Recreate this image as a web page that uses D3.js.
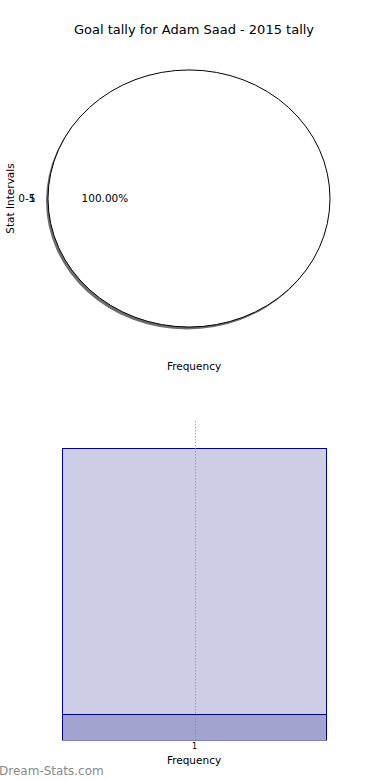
<!DOCTYPE html>
<html>
<head>
<meta charset="utf-8">
<script src="https://cdn.jsdelivr.net/npm/d3@7"></script>
<style>
body { margin: 0; background: #fff; }
text { font-family: "DejaVu Sans", sans-serif; }
</style>
</head>
<body>
<script>
// chart data
var intervals = ["0-5"];
var counts = [1];
var pctLabels = ["100.00%"];
var barCats = ["1"];
var barTop = [1];
var barBase = [0.09];
var whisker = [0, 1.1];

var width = 390, height = 780;

var svg = d3.select("body").append("svg")
    .attr("width", width)
    .attr("height", height);

svg.append("text")
    .attr("x", 194).attr("y", 34)
    .attr("text-anchor", "middle")
    .style("font-size", "13px")
    .text("Goal tally for Adam Saad - 2015 tally");

// pie
var cx = 189, cy = 198.5, rx = 141, ry = 128.5;
var pie = d3.pie().sort(null).startAngle(-Math.PI / 2).endAngle(1.5 * Math.PI);
var arcs = pie(counts);
var arc = d3.arc().innerRadius(0).outerRadius(rx);

var shadow = svg.append("g")
    .attr("transform", "translate(" + (cx - 2) + "," + (cy + 2.5) + ") scale(1," + (ry / rx) + ")");
shadow.selectAll("path")
    .data(arcs)
    .enter().append("path")
    .attr("d", arc)
    .attr("fill", "#6e6e6e");

var pieG = svg.append("g")
    .attr("transform", "translate(" + cx + "," + cy + ") scale(1," + (ry / rx) + ")");
pieG.selectAll("path")
    .data(arcs)
    .enter().append("path")
    .attr("d", arc)
    .attr("fill", "#fff")
    .attr("stroke", "#000")
    .attr("stroke-width", 1)
    .attr("vector-effect", "non-scaling-stroke");

var labels = svg.append("g");
intervals.forEach(function (name, i) {
    labels.append("text")
        .attr("x", cx - 1.1 * rx + 1.5).attr("y", cy + 3.5)
        .attr("text-anchor", "end")
        .style("font-size", "10.5px")
        .text(name);
    labels.append("text")
        .attr("x", cx - 1.1 * rx + 1.5).attr("y", cy + 3.5)
        .attr("text-anchor", "end")
        .style("font-size", "10.5px")
        .text(counts[i]);
    labels.append("text")
        .attr("x", cx - 0.6 * rx + 0.5).attr("y", cy + 3.5)
        .attr("text-anchor", "middle")
        .style("font-size", "10.5px")
        .text(pctLabels[i]);
});

svg.append("text")
    .attr("transform", "translate(13.5," + cy + ") rotate(-90)")
    .attr("text-anchor", "middle")
    .style("font-size", "10.5px")
    .text("Stat Intervals");

svg.append("text")
    .attr("x", 194).attr("y", 370)
    .attr("text-anchor", "middle")
    .style("font-size", "10.5px")
    .text("Frequency");

// bottom bar chart
var x = d3.scaleBand().domain(barCats).range([62.5, 326.5]).padding(0);
var y = d3.scaleLinear().domain([0, 1]).range([740.5, 448.5]);

var bars = svg.append("g");
bars.selectAll("rect.top")
    .data(barCats)
    .enter().append("rect")
    .attr("class", "top")
    .attr("x", function (d) { return x(d); })
    .attr("width", x.bandwidth())
    .attr("y", function (d, i) { return y(barTop[i]); })
    .attr("height", function (d, i) { return y(0) - y(barTop[i]); })
    .attr("fill", "#cdcde5")
    .attr("stroke", "#00008b")
    .attr("stroke-width", 1);

bars.selectAll("rect.base")
    .data(barCats)
    .enter().append("rect")
    .attr("class", "base")
    .attr("x", function (d) { return x(d); })
    .attr("width", x.bandwidth())
    .attr("y", function (d, i) { return Math.round(y(barBase[i])) + 0.5; })
    .attr("height", function (d, i) { return y(0) - Math.round(y(barBase[i])) - 0.5; })
    .attr("fill", "#a3a3d0")
    .attr("stroke", "#00008b")
    .attr("stroke-width", 1);

// no bottom border in reference
bars.append("line")
    .attr("x1", 62).attr("x2", 327)
    .attr("y1", 741).attr("y2", 741)
    .attr("stroke", "#fff").attr("stroke-width", 1.2);

var midX = Math.round(x("1") + x.bandwidth() / 2) + 0.5;
svg.append("line")
    .attr("x1", midX).attr("x2", midX)
    .attr("y1", y(whisker[1]) + 2).attr("y2", y(whisker[0]))
    .attr("stroke", "#888")
    .attr("stroke-width", 1)
    .attr("stroke-dasharray", "1,2");

var xAxis = svg.append("g")
    .attr("transform", "translate(0,740)")
    .call(d3.axisBottom(x).tickSize(0).tickPadding(3));
xAxis.select(".domain").remove();
xAxis.selectAll("text").style("font-size", "8px").attr("font-family", "DejaVu Sans");

svg.append("text")
    .attr("x", 194).attr("y", 764)
    .attr("text-anchor", "middle")
    .style("font-size", "10.5px")
    .text("Frequency");

svg.append("text")
    .attr("x", -1).attr("y", 775)
    .style("font-size", "12px")
    .attr("fill", "#8a8a8a")
    .text("Dream-Stats.com");
</script>
</body>
</html>
